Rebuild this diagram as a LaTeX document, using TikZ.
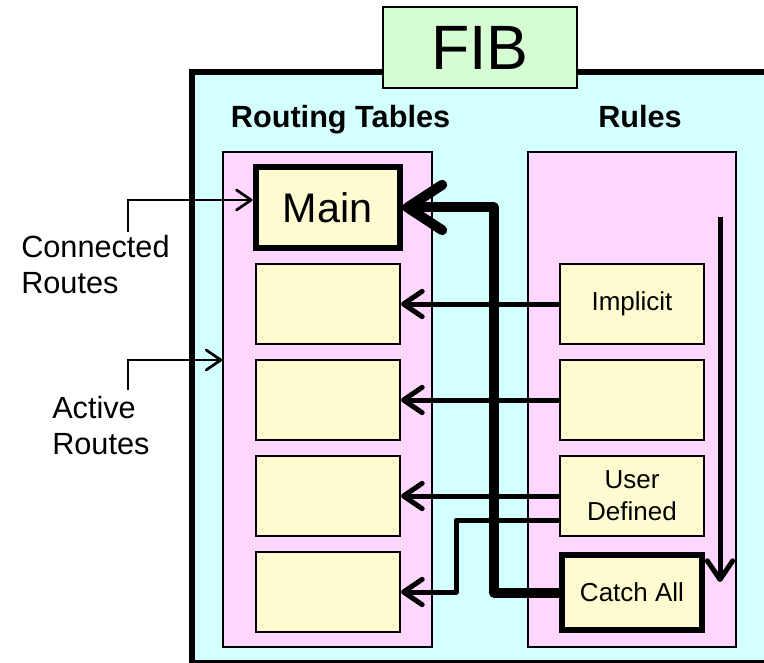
\documentclass[tikz,border=0pt]{standalone}
\usepackage{fontspec}
\setmainfont{Liberation Sans}
\usetikzlibrary{arrows.meta}

\begin{document}
\begin{tikzpicture}[x=0.75pt,y=0.75pt,yscale=-1,xscale=1,
  panel/.style={draw, line width=1.5pt, fill={rgb, 255:red, 255; green, 214; blue, 255 }, inner sep=0pt, minimum width=156.5pt, minimum height=371.25pt},
  tblbox/.style={draw, line width=1.5pt, fill={rgb, 255:red, 255; green, 251; blue, 208 }, inner sep=0pt, minimum width=108pt, minimum height=60pt},
  thickbox/.style={tblbox, line width=4.5pt},
  rulefont/.style={font=\fontsize{19.5pt}{24pt}\selectfont, align=center},
  feed/.style={line width=3.75pt, -{Straight Barb[length=14pt, width=19pt, round]}},
  mainfeed/.style={line width=7.5pt, line join=round, -{Straight Barb[length=26pt, width=34pt, round]}},
  note/.style={line width=2pt, -{Straight Barb[length=11pt, width=15pt, round]}}
]
\useasboundingbox (0,0) rectangle (764,663);

%Shape: Rectangle [FIB frame]
\draw [line width=4.5pt, fill={rgb, 255:red, 211; green, 255; blue, 255 }] (192,72) rectangle (820,663);
% Text Node
\node [draw, line width=1.5pt, fill={rgb, 255:red, 214; green, 252; blue, 212 }, inner sep=0pt, minimum width=145.5pt, minimum height=60.75pt, font=\fontsize{47pt}{52pt}\selectfont] (fib) at (480,47.5) {FIB};

% Text Node
\node [anchor=base, font=\fontsize{23pt}{27pt}\selectfont\bfseries] (tablestitle) at (340.5,128) {Routing Tables};
% Text Node
\node [anchor=base, font=\fontsize{23pt}{27pt}\selectfont\bfseries] (rulestitle) at (640,128) {Rules};

%Shape: Rectangle [panels]
\node [panel] (tables) at (327.5,399.5) {};
\node [panel] (rules) at (632,399.5) {};

%Routing tables
\node [thickbox, font=\fontsize{31pt}{36pt}\selectfont] (main) at (327.5,207.5) {Main};
\node [tblbox] (rt2) at (328,304) {};
\node [tblbox] (rt3) at (328,400) {};
\node [tblbox] (rt4) at (328,496) {};
\node [tblbox] (rt5) at (328,592) {};

%Rules
\node [tblbox, rulefont] (implicit) at (632,304) {Implicit};
\node [tblbox, rulefont] (rule2) at (632,400) {};
\node [tblbox, rulefont] (userdef) at (632,496) {User\\Defined};
\node [thickbox, rulefont, minimum width=105pt, minimum height=56.25pt] (catchall) at (632,592.5) {Catch All};

% Text Node
\node [anchor=base west, align=left, inner sep=0pt, font=\fontsize{23pt}{27pt}\selectfont] (connected) at (21,293) {Connected\\Routes};
% Text Node
\node [anchor=base west, align=left, inner sep=0pt, font=\fontsize{23pt}{27pt}\selectfont] (active) at (52,454) {Active\\Routes};

\coordinate (cr) at (128,232);
\coordinate (ar) at (128,390);
\coordinate (scantop) at (720,217);
\coordinate (scanbottom) at (720,582);

%Straight Lines
\draw [note] (cr) |- (main.west |- 0,200);
\draw [note] (ar) |- (tables.west |- 0,360);

\draw [mainfeed] (catchall.west) -- ++(-65,0) |- (main.east);
\draw [feed] (implicit) -- (rt2);
\draw [feed] (rule2) -- (rt3);
\draw [feed] (userdef) -- (rt4);
\draw [feed, line join=round] (userdef.west |- 0,520) -- ++(-103,0) |- (rt5.east);
\draw [feed] (scantop) -- (scanbottom);

\end{tikzpicture}
\end{document}
